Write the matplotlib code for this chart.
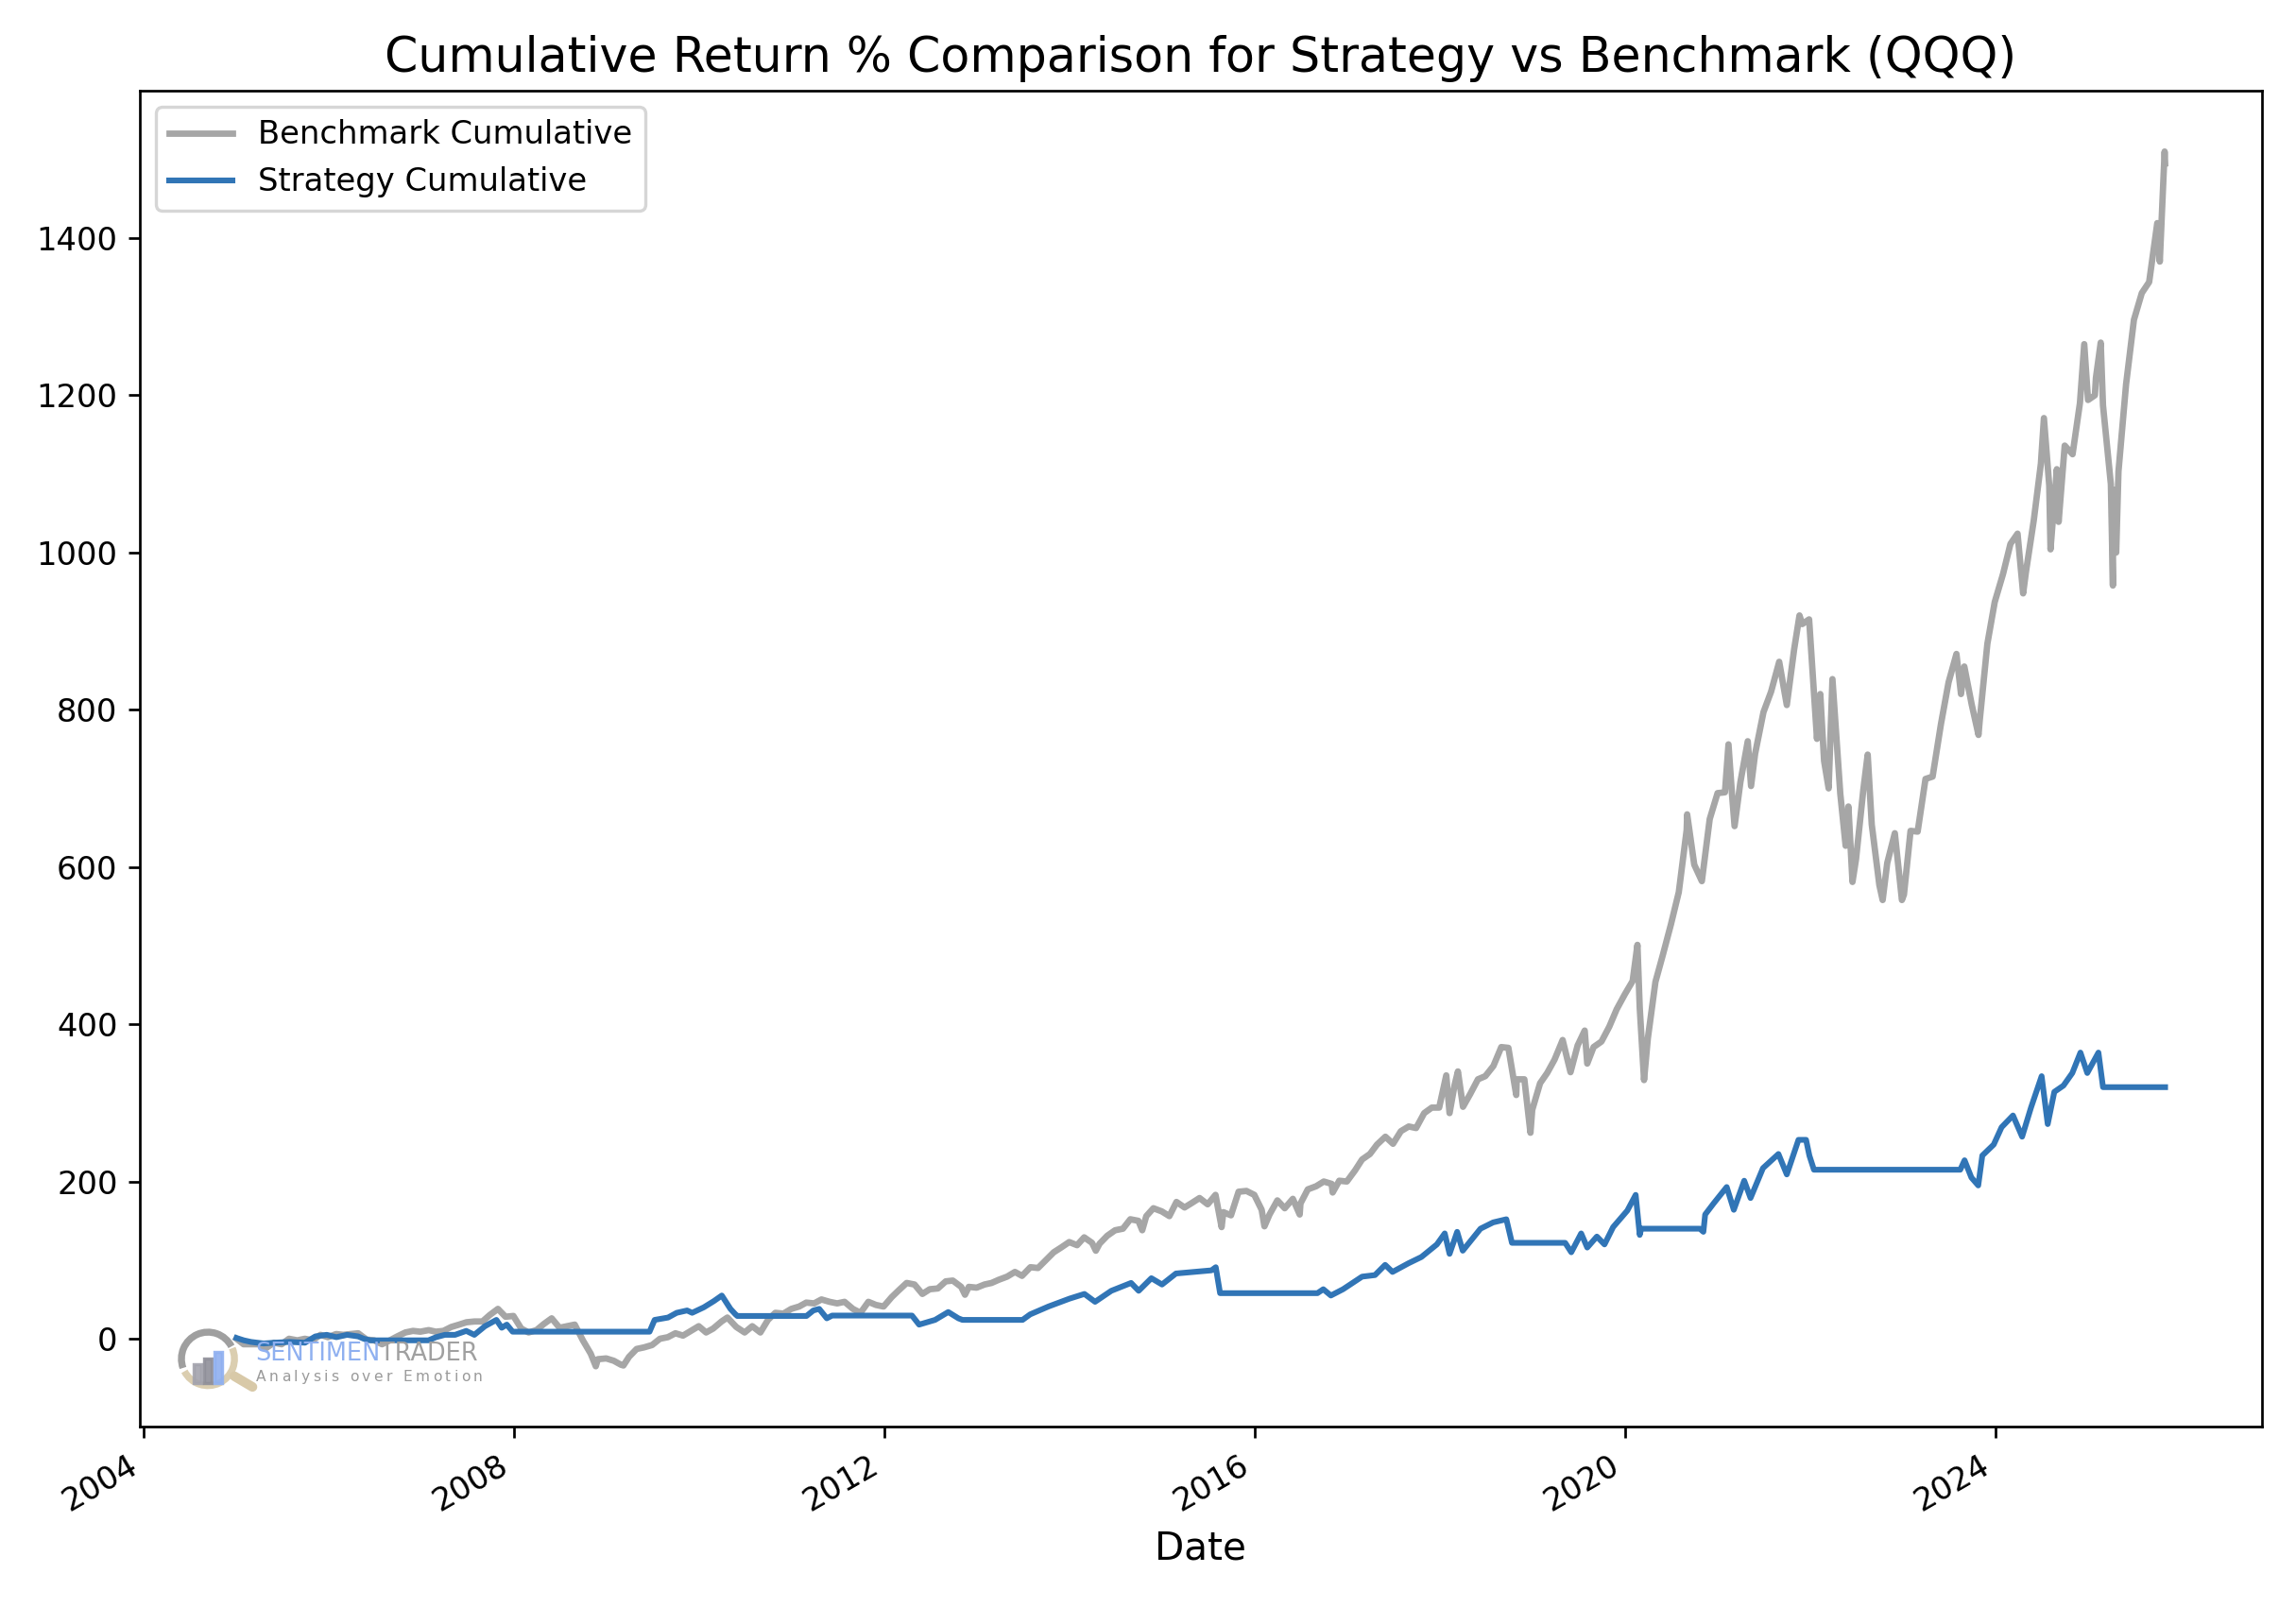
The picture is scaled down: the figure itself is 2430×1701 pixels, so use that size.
import numpy as np
import pandas as pd
import matplotlib
matplotlib.use('Agg')
import matplotlib.pyplot as plt
import matplotlib.dates as mdates
from matplotlib.patches import Arc, Rectangle

# benchmark (QQQ) cumulative return %
bench_dates = [
    '2005-01-03', '2005-01-31', '2005-02-28', '2005-03-31', '2005-04-29', '2005-05-31', '2005-06-30',
    '2005-07-29', '2005-08-31', '2005-09-30', '2005-10-31', '2005-11-30', '2005-12-30',
    '2006-01-31', '2006-02-28', '2006-03-31', '2006-04-28', '2006-05-31', '2006-06-30', '2006-07-31',
    '2006-08-31', '2006-09-29', '2006-10-31', '2006-11-30', '2006-12-29',
    '2007-01-31', '2007-02-28', '2007-03-30', '2007-04-30', '2007-05-31', '2007-06-29', '2007-07-31',
    '2007-08-31', '2007-09-28', '2007-10-31', '2007-11-30', '2007-12-31',
    '2008-01-31', '2008-02-29', '2008-03-31', '2008-04-30', '2008-05-30', '2008-06-30', '2008-07-31',
    '2008-08-29', '2008-09-30', '2008-10-31', '2008-11-20', '2008-11-28', '2008-12-31',
    '2009-01-30', '2009-02-27', '2009-03-09', '2009-03-31', '2009-04-30', '2009-05-29', '2009-06-30',
    '2009-07-31', '2009-08-31', '2009-09-30', '2009-10-30', '2009-11-30', '2009-12-31',
    '2010-01-29', '2010-02-26', '2010-03-31', '2010-04-23', '2010-05-28', '2010-06-30', '2010-07-30',
    '2010-08-31', '2010-09-30', '2010-10-29', '2010-11-30', '2010-12-31',
    '2011-01-31', '2011-02-28', '2011-03-31', '2011-04-29', '2011-05-31', '2011-06-30', '2011-07-29',
    '2011-08-31', '2011-09-30', '2011-10-31', '2011-11-30', '2011-12-30',
    '2012-01-31', '2012-02-29', '2012-03-30', '2012-04-30', '2012-05-31', '2012-06-29', '2012-07-31',
    '2012-08-31', '2012-09-28', '2012-10-31', '2012-11-15', '2012-11-30', '2012-12-31',
    '2013-01-31', '2013-02-28', '2013-03-28', '2013-04-30', '2013-05-31', '2013-06-28', '2013-07-31',
    '2013-08-30', '2013-09-30', '2013-10-31', '2013-11-29', '2013-12-31',
    '2014-01-31', '2014-02-28', '2014-03-31', '2014-04-15', '2014-04-30', '2014-05-30', '2014-06-30',
    '2014-07-31', '2014-08-29', '2014-09-30', '2014-10-15', '2014-10-31', '2014-11-28', '2014-12-31',
    '2015-01-30', '2015-02-27', '2015-03-31', '2015-04-30', '2015-05-29', '2015-06-30', '2015-07-31',
    '2015-08-24', '2015-08-31', '2015-09-30', '2015-10-30', '2015-11-30', '2015-12-31',
    '2016-01-29', '2016-02-09', '2016-02-29', '2016-03-31', '2016-04-29', '2016-05-31', '2016-06-27',
    '2016-06-30', '2016-07-29', '2016-08-31', '2016-09-30', '2016-10-31', '2016-11-04', '2016-11-30',
    '2016-12-30',
    '2017-01-31', '2017-02-28', '2017-03-31', '2017-04-28', '2017-05-31', '2017-06-30', '2017-07-31',
    '2017-08-31', '2017-09-29', '2017-10-31', '2017-11-30', '2017-12-29',
    '2018-01-26', '2018-02-08', '2018-02-28', '2018-03-13', '2018-04-02', '2018-04-30', '2018-05-31',
    '2018-06-29', '2018-07-31', '2018-08-31', '2018-09-28', '2018-10-29', '2018-10-31', '2018-11-30',
    '2018-12-24', '2018-12-31',
    '2019-01-31', '2019-02-28', '2019-03-29', '2019-04-30', '2019-05-31', '2019-06-28', '2019-07-26',
    '2019-08-05', '2019-08-30', '2019-09-30', '2019-10-31', '2019-11-29', '2019-12-31',
    '2020-01-31', '2020-02-19', '2020-02-28', '2020-03-16', '2020-03-31', '2020-04-30', '2020-05-29',
    '2020-06-30', '2020-07-31', '2020-08-31', '2020-09-02', '2020-09-30', '2020-10-30', '2020-11-30',
    '2020-12-31',
    '2021-01-29', '2021-02-12', '2021-02-26', '2021-03-08', '2021-03-31', '2021-04-29', '2021-05-12',
    '2021-05-28', '2021-06-30', '2021-07-30', '2021-08-31', '2021-09-30', '2021-10-29', '2021-11-19',
    '2021-11-30', '2021-12-27',
    '2022-01-27', '2022-02-09', '2022-02-24', '2022-03-14', '2022-03-29', '2022-04-29', '2022-05-20',
    '2022-05-31', '2022-06-16', '2022-06-30', '2022-07-29', '2022-08-15', '2022-08-31', '2022-09-30',
    '2022-10-13', '2022-10-31', '2022-11-30', '2022-12-28',
    '2023-01-05', '2023-01-31', '2023-02-28', '2023-03-31', '2023-04-28', '2023-05-31', '2023-06-30',
    '2023-07-31', '2023-08-18', '2023-08-31', '2023-09-29', '2023-10-26', '2023-10-31', '2023-11-30',
    '2023-12-29',
    '2024-01-31', '2024-02-29', '2024-03-28', '2024-04-19', '2024-04-30', '2024-05-31', '2024-06-28',
    '2024-07-10', '2024-07-31', '2024-08-05', '2024-08-30', '2024-09-06', '2024-09-30', '2024-10-31',
    '2024-11-29', '2024-12-16', '2024-12-31',
    '2025-01-27', '2025-01-31', '2025-02-19', '2025-02-28', '2025-03-31', '2025-04-08', '2025-04-09',
    '2025-04-21', '2025-04-30', '2025-05-30', '2025-06-30', '2025-07-31', '2025-08-29', '2025-09-30',
    '2025-10-10', '2025-10-29', '2025-10-31',
]
bench_vals = [
    0, -7, -7, -7, -12, -5, -7, 0, -2, 0, -2, 5, 2,
    6, 5, 6, 7, -1, -2, -7, -2, 3, 8, 10, 9,
    11, 9, 10, 15, 18, 21, 22, 22, 30, 38, 28, 29,
    13, 8, 11, 19, 26, 14, 16, 18, -2, -19, -35, -26, -25,
    -28, -33, -34, -23, -13, -11, -8, 0, 2, 7, 4, 10, 16,
    8, 13, 22, 27, 15, 8, 16, 8, 24, 33, 32, 38,
    41, 46, 45, 50, 47, 45, 47, 38, 33, 47, 43, 41,
    53, 62, 71, 69, 57, 63, 64, 73, 74, 66, 56, 66, 65,
    69, 71, 75, 79, 85, 80, 91, 90, 100, 110, 116, 123,
    119, 129, 122, 112, 121, 131, 138, 140, 152, 150, 138, 156, 166, 162,
    156, 174, 167, 173, 179, 171, 183, 142, 161, 157, 187, 188, 183,
    164, 143, 158, 176, 166, 178, 158, 172, 190, 194, 200, 197, 186, 201, 200,
    214, 228, 235, 247, 257, 248, 264, 270, 268, 287, 294, 294,
    335, 287, 323, 340, 295, 311, 330, 334, 347, 371, 370, 310, 330, 330, 262, 291,
    325, 338, 355, 380, 339, 373, 392, 350, 371, 378, 397, 419, 438,
    455, 501, 421, 329, 382, 454, 488, 527, 568, 647, 667, 603, 582, 661, 694,
    695, 756, 692, 652, 708, 760, 703, 744, 797, 823, 861, 806, 877, 920, 909, 915,
    763, 820, 735, 700, 839, 693, 627, 677, 581, 610, 699, 743, 654, 577, 558, 605, 643, 558,
    565, 646, 645, 712, 715, 782, 835, 871, 820, 855, 807, 768, 787, 884, 937,
    973, 1011, 1024, 948, 975, 1041, 1113, 1171, 1085, 1004, 1106, 1039, 1136, 1125, 1190, 1265, 1194,
    1200, 1222, 1267, 1187, 1087, 958, 1080, 1000, 1103, 1214, 1296, 1330, 1344, 1419, 1370, 1510, 1495,
]

# strategy cumulative return % (flat = out of market)
strat_dates = [
    '2005-01-03', '2005-02-01', '2005-03-01', '2005-04-20', '2005-06-01', '2005-08-01', '2005-09-30',
    '2005-11-10', '2005-12-25', '2006-02-01', '2006-03-15', '2006-04-28', '2006-05-20', '2006-06-15',
    '2007-01-30', '2007-03-01', '2007-04-05', '2007-05-15', '2007-06-28', '2007-07-30', '2007-09-10',
    '2007-10-25', '2007-11-15', '2007-12-05', '2007-12-28', '2009-06-20', '2009-07-10', '2009-09-01',
    '2009-10-05', '2009-11-15', '2009-12-05', '2010-01-20', '2010-03-01', '2010-04-01', '2010-05-05',
    '2010-05-25', '2010-06-01', '2011-03-01', '2011-03-28', '2011-04-20', '2011-05-20', '2011-06-10',
    '2012-04-20', '2012-05-18', '2012-07-20', '2012-09-10', '2012-10-20', '2012-11-05', '2013-06-30',
    '2013-07-30', '2013-10-10', '2014-01-01', '2014-03-01', '2014-04-12', '2014-06-15', '2014-09-01',
    '2014-10-01', '2014-11-20', '2015-01-01', '2015-02-25', '2015-05-05', '2015-07-15', '2015-08-01',
    '2015-08-18', '2016-09-05', '2016-09-28', '2016-10-28', '2016-12-15', '2017-02-28', '2017-04-20',
    '2017-05-30', '2017-06-28', '2017-08-30', '2017-10-20', '2017-12-20', '2018-01-20', '2018-02-08',
    '2018-03-10', '2018-04-01', '2018-06-10', '2018-07-30', '2018-09-20', '2018-10-12', '2019-05-10',
    '2019-06-03', '2019-07-12', '2019-08-05', '2019-09-12', '2019-10-12', '2019-11-15', '2020-01-10',
    '2020-02-12', '2020-02-28', '2020-03-05', '2020-10-22', '2020-11-05', '2020-11-12', '2020-12-15',
    '2021-02-05', '2021-03-05', '2021-04-15', '2021-05-10', '2021-06-28', '2021-08-28', '2021-09-30',
    '2021-11-15', '2021-12-15', '2021-12-28', '2022-01-15', '2023-08-15', '2023-09-01', '2023-09-28',
    '2023-10-25', '2023-11-10', '2023-12-25', '2024-01-25', '2024-03-10', '2024-04-15', '2024-05-20',
    '2024-07-01', '2024-07-25', '2024-08-20', '2024-09-25', '2024-10-30', '2024-12-01', '2024-12-28',
    '2025-02-10', '2025-02-28', '2025-10-31',
]
strat_vals = [
    1, -2, -4, -6, -5, -4, -5, 3, 5, 2, 5, 3, 0, -2,
    -2, 2, 5, 5, 10, 5, 16, 24, 14, 18, 9, 9, 24, 27,
    33, 36, 33, 40, 48, 55, 38, 31, 29, 29, 36, 38, 26, 29.5,
    29.5, 18, 24, 34, 26, 24, 24, 31, 41, 51, 57, 47, 61, 71,
    61, 77, 69, 83, 85, 87, 91, 58, 58, 63, 55, 63, 79, 81,
    94, 85, 96, 104, 120, 134, 108, 136, 112, 140, 148, 152, 122, 122,
    110, 134, 116, 130, 120, 142, 163, 183, 132, 140, 140, 136, 158, 172,
    193, 164, 201, 179, 217, 235, 209, 253, 253, 233, 215, 215, 227, 205,
    195, 233, 247, 269, 284, 257, 294, 334, 273, 314, 322, 338, 364, 338,
    364, 320, 320,
]

bench = pd.Series(bench_vals, index=pd.to_datetime(bench_dates))
strat = pd.Series(strat_vals, index=pd.to_datetime(strat_dates))

fig, ax = plt.subplots(figsize=(10, 7), dpi=243)
ax.plot(bench.index, bench.values, color='gray', alpha=0.7, lw=2.0, label='Benchmark Cumulative')
ax.plot(strat.index, strat.values, color='#3175b6', lw=1.8, label='Strategy Cumulative')

ax.set_title('Cumulative Return % Comparison for Strategy vs Benchmark (QQQ)', fontsize=15)
ax.set_xlabel('Date', fontsize=12)
ax.xaxis.set_major_locator(mdates.YearLocator(4))
ax.xaxis.set_major_formatter(mdates.DateFormatter('%Y'))
ax.legend(loc='upper left')
fig.autofmt_xdate()

# sentimentrader watermark
tr = ax.transAxes
ax.add_patch(Arc((0.032, 0.051), 0.025, 0.040, theta1=40, theta2=210, transform=tr,
                 ec='#8e8e8e', lw=2.2, alpha=0.85, zorder=4))
ax.add_patch(Arc((0.032, 0.051), 0.025, 0.040, theta1=220, theta2=395, transform=tr,
                 ec='#d8c9a8', lw=2.2, alpha=0.9, zorder=4))
for bx, bh, bc in [(0.0254, 0.014, '#a3a3ad'), (0.0303, 0.018, '#8f8f99'), (0.0352, 0.023, '#8fb0f0')]:
    ax.add_patch(Rectangle((bx, 0.033), 0.0036, bh, transform=tr, color=bc, alpha=0.9, zorder=4))
ax.plot([0.0445, 0.053], [0.038, 0.030], transform=tr,
        color='#d8c9a8', lw=3.0, solid_capstyle='round', zorder=4)
t1 = ax.text(0.0543, 0.0545, 'SENTIMEN', transform=tr, fontsize=7.6,
             color='#8fb0f0', va='center', ha='left', zorder=4)
ax.annotate('TRADER', xycoords=t1, xy=(1, 0.5), va='center', ha='left',
            fontsize=7.6, color='#a0a0a0', zorder=4)
# letter-spaced tagline
tag = 'Analysis over Emotion'
prev = ax.text(0.0545, 0.0345, tag[0], transform=tr, fontsize=4.6,
               color='#9a9a9a', va='baseline', ha='left', zorder=4)
for ch in tag[1:]:
    prev = ax.annotate(ch, xy=(1, 0), xycoords=prev, xytext=(1.0, 0), textcoords='offset points',
                       fontsize=4.6, color='#9a9a9a', va='bottom', ha='left', zorder=4)

plt.subplots_adjust(left=0.061, right=0.985, bottom=0.112, top=0.9435)
plt.savefig('out.png', dpi=243)
